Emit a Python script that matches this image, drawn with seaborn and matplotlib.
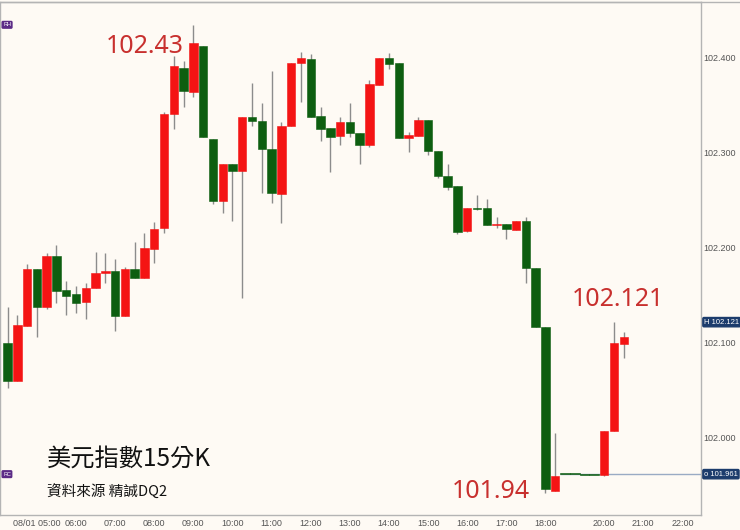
"""
US dollar index, 15-minute candlesticks (08/01), recreated with seaborn
styling and matplotlib bars for the candle bodies.
"""

import matplotlib
matplotlib.use("Agg")
import matplotlib.pyplot as plt
from matplotlib.lines import Line2D
import seaborn as sns


# One slot per 15-minute bar; the platform squeezes out the quiet evening.
OPENS = [102.099, 102.059, 102.117, 102.177, 102.137, 102.191, 102.155, 102.151,
         102.142, 102.157, 102.173, 102.175, 102.128, 102.177, 102.167, 102.198,
         102.220, 102.340, 102.389, 102.363, 102.412, 102.314, 102.249, 102.288,
         102.280, 102.337, 102.333, 102.303, 102.256, 102.328, 102.394, 102.398,
         102.338, 102.325, 102.317, 102.332, 102.320, 102.308, 102.371, 102.399,
         102.394, 102.315, 102.317, 102.334, 102.301, 102.275, 102.264, 102.217,
         102.241, 102.241, 102.223, 102.224, 102.218, 102.228, 102.178, 102.116,
         101.943, 101.962, 101.962, 101.961, 101.961, 101.960, 102.006, 102.098]
HIGHS = [102.137, 102.129, 102.182, 102.177, 102.194, 102.202, 102.164, 102.159,
         102.162, 102.195, 102.194, 102.188, 102.179, 102.205, 102.215, 102.226,
         102.342, 102.401, 102.396, 102.434, 102.412, 102.314, 102.288, 102.288,
         102.337, 102.373, 102.352, 102.385, 102.332, 102.394, 102.405, 102.403,
         102.347, 102.325, 102.337, 102.352, 102.320, 102.376, 102.399, 102.404,
         102.394, 102.321, 102.337, 102.334, 102.301, 102.287, 102.264, 102.241,
         102.255, 102.251, 102.232, 102.224, 102.228, 102.232, 102.178, 102.116,
         102.004, 101.962, 101.962, 101.961, 101.961, 102.006, 102.121, 102.111]
LOWS = [102.052, 102.059, 102.117, 102.105, 102.135, 102.141, 102.129, 102.131,
        102.124, 102.157, 102.162, 102.112, 102.128, 102.167, 102.167, 102.183,
        102.215, 102.324, 102.347, 102.358, 102.316, 102.245, 102.236, 102.227,
        102.146, 102.328, 102.257, 102.246, 102.225, 102.328, 102.353, 102.337,
        102.312, 102.279, 102.308, 102.316, 102.287, 102.305, 102.371, 102.388,
        102.315, 102.300, 102.317, 102.297, 102.273, 102.260, 102.214, 102.216,
        102.239, 102.223, 102.220, 102.209, 102.218, 102.162, 102.116, 101.941,
        101.943, 101.962, 101.962, 101.961, 101.961, 101.959, 102.006, 102.083]
CLOSES = [102.059, 102.118, 102.177, 102.137, 102.191, 102.154, 102.149, 102.141,
          102.157, 102.173, 102.175, 102.128, 102.177, 102.167, 102.199, 102.219,
          102.340, 102.391, 102.364, 102.415, 102.316, 102.249, 102.288, 102.280,
          102.337, 102.333, 102.303, 102.257, 102.328, 102.394, 102.399, 102.337,
          102.324, 102.316, 102.332, 102.320, 102.308, 102.372, 102.399, 102.393,
          102.315, 102.318, 102.334, 102.301, 102.275, 102.263, 102.216, 102.241,
          102.240, 102.223, 102.224, 102.219, 102.228, 102.178, 102.116, 101.945,
          101.959, 101.962, 101.962, 101.961, 101.961, 102.006, 102.099, 102.105]

# Session open price (the "o" line on the price scale).
SESSION_OPEN = 101.961

TICK_SLOTS = [3, 7, 11, 15, 19, 23, 27, 31, 35, 39, 43, 47, 51, 55, 61, 65, 69]
TICK_LABELS = ["08/01 05:00", "06:00", "07:00", "08:00", "09:00", "10:00",
               "11:00", "12:00", "13:00", "14:00", "15:00", "16:00", "17:00",
               "18:00", "20:00", "21:00", "22:00"]
PRICE_TICKS = [102.000, 102.100, 102.200, 102.300, 102.400]

TITLE = "美元指數15分K"
SUBTITLE = "資料來源 精誠DQ2"

BG = "#fefaf4"
UP = "#f41414"
DOWN = "#0d5e10"
WICK = "#8c8c8c"
NOTE = "#c8302e"
TAG = "#1c3c6c"
SCALE_FONT = ["Liberation Sans", "DejaVu Sans"]
CJK = ["Noto Sans CJK TC", "DejaVu Sans"]


def main() -> None:
    sns.set_theme(style="white", rc={"axes.facecolor": BG, "figure.facecolor": BG})
    plt.rcParams["font.family"] = CJK

    fig = plt.figure(figsize=(7.4, 5.3), dpi=100)
    ax = fig.add_axes([0.0, 15 / 530, 701 / 740, 513 / 530])

    slots = list(range(len(OPENS)))
    colors = [UP if c > o else DOWN for o, c in zip(OPENS, CLOSES)]
    bottoms, heights, widths = [], [], []
    for o, c, h, l in zip(OPENS, CLOSES, HIGHS, LOWS):
        lo, hi = min(o, c), max(o, c)
        if h == l:
            # no trades: a thin flat line joining its neighbours
            mid = (hi + lo) / 2
            lo, hi = mid - 0.0004, mid + 0.0004
            widths.append(1.0)
        else:
            if hi - lo < 0.0015:
                mid = (hi + lo) / 2
                lo, hi = mid - 0.00075, mid + 0.00075
            widths.append(0.86)
        bottoms.append(lo)
        heights.append(hi - lo)

    # Wicks first, then the bodies on top.
    ax.vlines(slots, LOWS, HIGHS, color=WICK, lw=1.0, zorder=2)
    ax.bar(slots, heights, bottom=bottoms, width=widths, color=colors,
           edgecolor=colors, linewidth=0.4, zorder=3)

    ax.set_xlim(-0.77, 70.9)
    ax.set_ylim(101.918, 102.458)

    # Session open line, from the first quiet bar after the low to the scale.
    low_slot = LOWS.index(min(LOWS))
    ax.hlines(SESSION_OPEN, low_slot + 1.5, 70.9, color="#9aabc4", lw=1.0, zorder=1)

    # Axes and ticks.
    ax.yaxis.tick_right()
    ax.set_yticks(PRICE_TICKS)
    ax.set_yticklabels([f"{v:.3f}" for v in PRICE_TICKS])
    ax.set_xticks(TICK_SLOTS)
    ax.set_xticklabels(TICK_LABELS)
    ax.tick_params(axis="both", length=0, labelsize=6.5, colors="#555555")
    ax.tick_params(axis="y", pad=2)
    ax.tick_params(axis="x", pad=3)
    for lab in ax.get_xticklabels() + ax.get_yticklabels():
        lab.set_family(SCALE_FONT)
    for side in ["top", "bottom", "right", "left"]:
        ax.spines[side].set_visible(True)
        ax.spines[side].set_color("#b4b4b4")
        ax.spines[side].set_linewidth(1.0)
    ax.grid(False)

    # Price tags on the right scale.
    hi_slot = slots[-2]
    for label, price in [(f"H {HIGHS[hi_slot]:.3f}", HIGHS[hi_slot]),
                         (f"o {SESSION_OPEN:.3f}", SESSION_OPEN)]:
        ax.annotate(label, xy=(1.0, price), xycoords=("axes fraction", "data"),
                    xytext=(3, 0), textcoords="offset pixels",
                    ha="left", va="center", fontsize=5.5, color="white",
                    family=SCALE_FONT, annotation_clip=False,
                    bbox=dict(boxstyle="round,pad=0.15", fc=TAG, ec=TAG))

    # Small purple markers at the left edge.
    top_price = max(HIGHS)
    for label, price in [("RH", top_price), ("RC", SESSION_OPEN)]:
        ax.annotate(label, xy=(0.0, price), xycoords=("axes fraction", "data"),
                    xytext=(3, 0), textcoords="offset pixels",
                    ha="left", va="center", fontsize=4, color="white",
                    family=SCALE_FONT,
                    bbox=dict(boxstyle="round,pad=0.15", fc="#5b2a86", ec="#5b2a86"))

    # Red value call-outs for high, rebound high and low.
    note_font = ["Noto Sans", "DejaVu Sans"]
    peak = HIGHS.index(top_price)
    ax.annotate(f"{top_price:.2f}", xy=(peak, top_price),
                xytext=(-10, -28), textcoords="offset pixels",
                ha="right", va="baseline", fontsize=18, color=NOTE, family=note_font)
    ax.annotate(f"{HIGHS[hi_slot]:.3f}", xy=(hi_slot, HIGHS[hi_slot]),
                xytext=(4, 16), textcoords="offset pixels",
                ha="center", va="baseline", fontsize=18, color=NOTE, family=note_font)
    ax.annotate(f"{LOWS[low_slot]:.2f}", xy=(low_slot, LOWS[low_slot]),
                xytext=(-16, -5), textcoords="offset pixels",
                ha="right", va="baseline", fontsize=18, color=NOTE, family=note_font)

    # Titles in the lower-left corner.
    fig.text(47 / 740, 1 - 466 / 530, TITLE, ha="left", va="baseline",
             fontsize=17.5, color="#111111", family=CJK)
    fig.text(47 / 740, 1 - 497 / 530, SUBTITLE, ha="left", va="baseline",
             fontsize=10.5, color="#111111", family=CJK)

    fig.add_artist(Line2D([0, 1], [1 - 2 / 530, 1 - 2 / 530],
                          transform=fig.transFigure, color="#b4b4b4", lw=1.0))

    fig.savefig("out.png", dpi=100, facecolor=BG)
    plt.close(fig)


if __name__ == "__main__":
    main()
